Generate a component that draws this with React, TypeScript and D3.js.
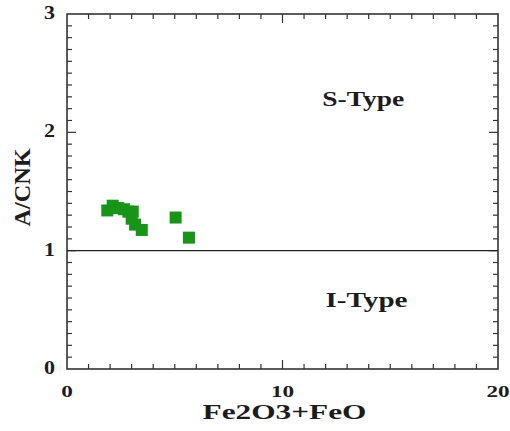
import React, { useEffect, useRef } from 'react'
import * as d3 from 'd3'

// Fe2O3+FeO vs A/CNK samples
const feTotal = [1.87, 2.12, 2.38, 2.64, 2.85, 3.05, 3.0, 3.16, 3.47, 5.04, 5.66]
const acnk = [1.34, 1.38, 1.36, 1.35, 1.33, 1.33, 1.27, 1.22, 1.175, 1.28, 1.11]
const xTicks = [0, 10, 20]
const yTicks = [0, 1, 2, 3]
const regionLabels = [
  { text: 'S-Type', x: 13.75, y: 2.22 },
  { text: 'I-Type', x: 13.9, y: 0.52 },
]

function App() {
  const svgRef = useRef<SVGSVGElement>(null)
  const width = 510
  const height = 431

  useEffect(() => {
    const svg = d3.select(svgRef.current)
    svg.selectAll('*').remove()

    const margin = { top: 14, right: 12, bottom: 62, left: 67 }
    const innerWidth = width - margin.left - margin.right
    const innerHeight = height - margin.top - margin.bottom

    const x = d3.scaleLinear().domain([0, 20]).range([0, innerWidth])
    const y = d3.scaleLinear().domain([0, 3]).range([innerHeight, 0])

    const g = svg.append('g').attr('transform', `translate(${margin.left},${margin.top})`)
    const font = '"Liberation Serif", "Times New Roman", serif'
    const ink = '#333'
    const textInk = '#1c1c1c'

    // frame
    g.append('rect')
      .attr('width', innerWidth)
      .attr('height', innerHeight)
      .attr('fill', 'none')
      .attr('stroke', ink)
      .attr('stroke-width', 1.6)

    // inward ticks, x every 1, y every 0.1
    const xMinor = d3.range(1, 20)
    xMinor.forEach(v => {
      const len = v % 10 === 0 ? 9 : 5
      g.append('line').attr('x1', x(v)).attr('x2', x(v))
        .attr('y1', innerHeight).attr('y2', innerHeight - len)
        .attr('stroke', ink).attr('stroke-width', 1.2)
      g.append('line').attr('x1', x(v)).attr('x2', x(v))
        .attr('y1', 0).attr('y2', len)
        .attr('stroke', ink).attr('stroke-width', 1.2)
    })
    const yMinor = d3.range(1, 30).map(i => i / 10)
    yMinor.forEach((v, i) => {
      const len = (i + 1) % 10 === 0 ? 9 : 5
      g.append('line').attr('x1', 0).attr('x2', len)
        .attr('y1', y(v)).attr('y2', y(v))
        .attr('stroke', ink).attr('stroke-width', 1.2)
      g.append('line').attr('x1', innerWidth).attr('x2', innerWidth - len)
        .attr('y1', y(v)).attr('y2', y(v))
        .attr('stroke', ink).attr('stroke-width', 1.2)
    })

    // tick labels (source image is stretched horizontally)
    g.selectAll('.xl').data(xTicks).enter().append('text')
      .attr('x', d => x(d) - String(d).length * 5.8).attr('y', innerHeight + 28)
      .attr('textLength', d => String(d).length * 11.6)
      .attr('lengthAdjust', 'spacingAndGlyphs')
      .attr('font-family', font).attr('font-weight', 'bold').attr('font-size', 17)
      .attr('fill', textInk)
      .text(d => d)
    g.selectAll('.yl').data(yTicks).enter().append('text')
      .attr('x', -23).attr('y', d => y(d) + 5)
      .attr('textLength', 11)
      .attr('lengthAdjust', 'spacingAndGlyphs')
      .attr('font-family', font).attr('font-weight', 'bold').attr('font-size', 18)
      .attr('fill', textInk)
      .text(d => d)

    // boundary A/CNK = 1
    g.append('line')
      .attr('x1', 0).attr('x2', innerWidth)
      .attr('y1', y(1)).attr('y2', y(1))
      .attr('stroke', '#222').attr('stroke-width', 1.4)

    // points
    const size = 12
    g.selectAll('.pt').data(feTotal).enter().append('rect')
      .attr('x', (d) => x(d) - size / 2)
      .attr('y', (_, i) => y(acnk[i]) - size / 2)
      .attr('width', size).attr('height', size)
      .attr('fill', '#189418')

    // region labels
    g.selectAll('.rl').data(regionLabels).enter().append('text')
      .attr('x', d => x(d.x) - 41).attr('y', d => y(d.y))
      .attr('textLength', 82)
      .attr('lengthAdjust', 'spacingAndGlyphs')
      .attr('font-family', font).attr('font-weight', 'bold').attr('font-size', 22)
      .attr('fill', textInk)
      .text(d => d.text)

    // axis titles
    g.append('text')
      .attr('x', innerWidth / 2 - 82 + 2).attr('y', innerHeight + 50)
      .attr('textLength', 164)
      .attr('lengthAdjust', 'spacingAndGlyphs')
      .attr('font-family', font).attr('font-weight', 'bold').attr('font-size', 21)
      .attr('fill', textInk)
      .text('Fe2O3+FeO')
    g.append('text')
      .attr('transform', `translate(${-37},${innerHeight / 2 - 4 + 39}) rotate(-90)`)
      .attr('textLength', 78)
      .attr('lengthAdjust', 'spacingAndGlyphs')
      .attr('font-family', font).attr('font-weight', 'bold').attr('font-size', 23)
      .attr('fill', textInk)
      .text('A/CNK')
  }, [])

  return (
    <svg
      ref={svgRef}
      width={width}
      height={height}
      style={{ position: 'absolute', left: 0, top: 0, background: '#fff' }}
    />
  )
}

export default App
